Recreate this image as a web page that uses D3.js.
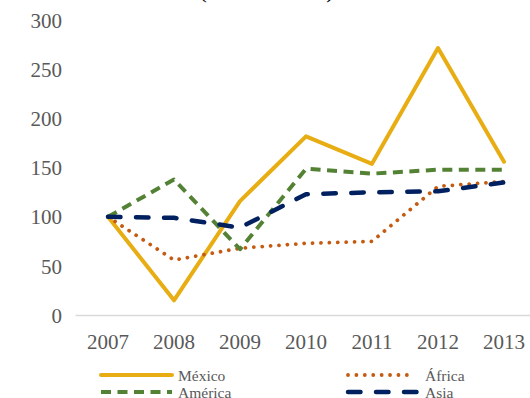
<!DOCTYPE html>
<html>
<head>
<meta charset="utf-8">
<script src="https://cdn.jsdelivr.net/npm/d3@7"></script>
<style>
  html, body { margin: 0; padding: 0; background: #fff; }
  svg { display: block; }
  text { font-family: "Liberation Serif", "DejaVu Serif", serif; }
</style>
</head>
<body>
<svg id="chart" width="530" height="398"></svg>
<script>
const years = ["2007", "2008", "2009", "2010", "2011", "2012", "2013"];
const mexico  = [100, 15, 116, 182, 154, 272, 156];
const africa  = [100, 56, 68, 73, 75, 131, 136];
const america = [100, 138, 67, 149, 144, 148, 148];
const asia    = [100, 99, 89, 123, 125, 126, 135];
const yTicks  = [0, 50, 100, 150, 200, 250, 300];
const seriesNames = ["México", "África", "América", "Asia"];
const titleText = "(2007 = 100)";

const series = [
  { name: seriesNames[0], values: mexico,  color: "#E8AD13", width: 4,   dash: null,        cap: "round" },
  { name: seriesNames[1], values: africa,  color: "#C55A11", width: 3.8, dash: "0.01,8.4",  cap: "round" },
  { name: seriesNames[2], values: america, color: "#548235", width: 4,   dash: "10,6.5",    cap: "butt" },
  { name: seriesNames[3], values: asia,    color: "#002060", width: 4.5, dash: "12.5,15.5", cap: "round" }
];

const svg = d3.select("#chart");

const x = d3.scaleBand().domain(years).range([75, 537]);
const y = d3.scaleLinear().domain([0, 300]).range([315, 20.5]);

// Title (cropped at top)
svg.append("text")
  .attr("x", 266.5).attr("y", -2)
  .attr("text-anchor", "middle")
  .attr("textLength", 134).attr("lengthAdjust", "spacing")
  .style("font-size", "22px").style("fill", "#000")
  .text(titleText);

// Y axis labels
const yAxis = d3.axisLeft(y).tickValues(yTicks).tickSize(0).tickPadding(0);
const gy = svg.append("g").attr("transform", "translate(62,0)").call(yAxis);
gy.select(".domain").remove();
gy.selectAll("text")
  .style("font-family", "'Liberation Serif', serif")
  .style("font-size", "21px").style("fill", "#595959")
  .attr("dy", "0.34em");

// X axis
const xAxis = d3.axisBottom(x).tickSize(0).tickPadding(0);
const gx = svg.append("g").attr("transform", "translate(0,315)").call(xAxis);
gx.select(".domain").attr("stroke", "#D9D9D9").attr("stroke-width", 1.5);
gx.selectAll("text")
  .style("font-family", "'Liberation Serif', serif")
  .style("font-size", "21px").style("fill", "#595959")
  .attr("y", 0).attr("dy", "1.6em");

// Lines
const line = d3.line()
  .x((d, i) => x(years[i]) + x.bandwidth() / 2)
  .y(d => y(d));

series.forEach(s => {
  svg.append("path")
    .datum(s.values)
    .attr("fill", "none")
    .attr("stroke", s.color)
    .attr("stroke-width", s.width)
    .attr("stroke-linejoin", "round")
    .attr("stroke-linecap", s.cap)
    .attr("stroke-dasharray", s.dash)
    .attr("d", line);
});

// Legend
const legendPos = [
  { x: 101, y: 375 },
  { x: 348, y: 375 },
  { x: 101, y: 392 },
  { x: 348, y: 392 }
];
const textX = [178, 425, 178, 425];
series.forEach((s, i) => {
  const p = legendPos[i];
  const len = i === 1 ? 65 : 71;
  svg.append("line")
    .attr("x1", p.x).attr("x2", p.x + len)
    .attr("y1", p.y).attr("y2", p.y)
    .attr("stroke", s.color)
    .attr("stroke-width", s.width)
    .attr("stroke-linecap", s.cap)
    .attr("stroke-dasharray", s.dash);
  svg.append("text")
    .attr("x", textX[i]).attr("y", p.y + 6)
    .style("font-size", "15.5px").style("fill", "#595959")
    .text(s.name);
});
</script>
</body>
</html>
